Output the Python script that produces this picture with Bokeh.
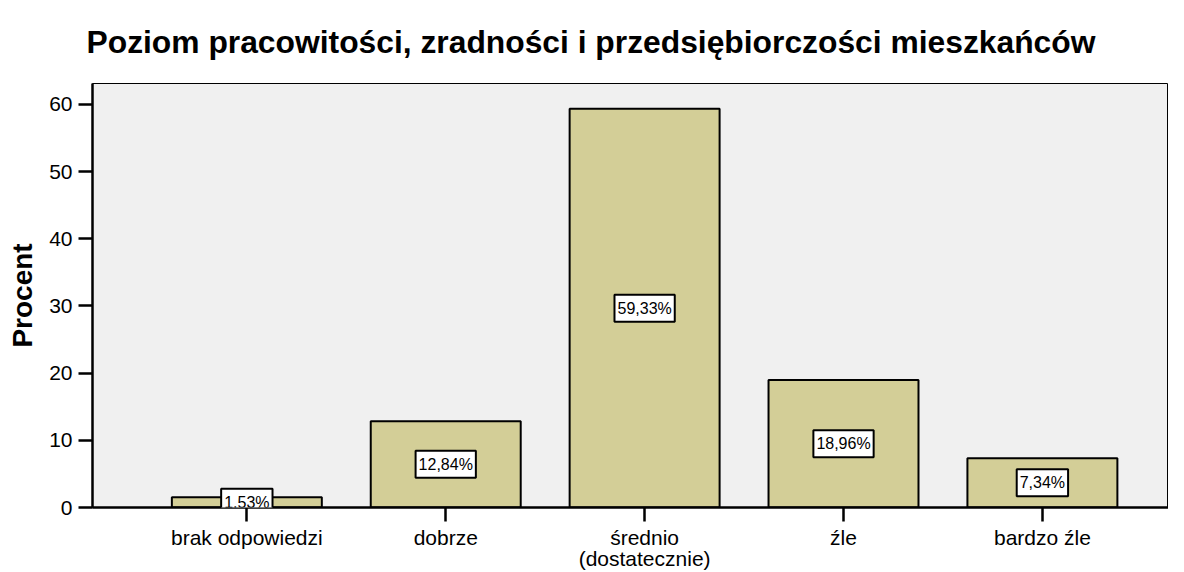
from bokeh.plotting import figure
from bokeh.models import ColumnDataSource, FixedTicker, Range1d, Label
from bokeh.embed import file_html
from bokeh.resources import INLINE

title_text = "Poziom pracowitości, zradności i przedsiębiorczości mieszkańców"
categories = ["brak odpowiedzi", "dobrze", "średnio\n(dostatecznie)", "źle", "bardzo źle"]
percent = [1.53, 12.84, 59.33, 18.96, 7.34]
pct_labels = ["1,53%", "12,84%", "59,33%", "18,96%", "7,34%"]
y_ticks = [0, 10, 20, 30, 40, 50, 60]

FONT = "Liberation Sans"
xs = list(range(len(categories)))

p = figure(width=1168, height=572, output_backend="svg", toolbar_location=None,
           x_range=Range1d(-0.776, 4.634), y_range=Range1d(0, 63.1),
           min_border_left=92, min_border_right=0, min_border_top=83, min_border_bottom=64)

p.title.text = title_text
p.title.text_font = FONT
p.title.text_font_size = "31.8px"
p.title.text_font_style = "bold"
p.title.text_color = "black"
p.title.align = "left"
p.title.offset = -6
p.title.vertical_align = "top"
p.title.standoff = 44

p.background_fill_color = "#f0f0f0"
p.border_fill_color = "white"
p.outline_line_color = "black"
p.outline_line_width = 1
p.xgrid.visible = False
p.ygrid.visible = False

src = ColumnDataSource(dict(x=xs, top=percent))
p.vbar(x="x", top="top", bottom=0, width=0.754, source=src,
       fill_color="#d3ce97", line_color="black", line_width=2)

for x, v, t in zip(xs, percent, pct_labels):
    p.add_layout(Label(x=x, y=v / 2, text=t, text_align="center", text_baseline="middle",
                       text_font=FONT, text_font_size="16px", text_color="black",
                       background_fill_color="white", border_line_color="black",
                       border_line_width=2, padding=(3, 5)))

for ax in (p.xaxis[0], p.yaxis[0]):
    ax.axis_line_color = "black"
    ax.axis_line_width = 2.5
    ax.major_tick_line_color = "black"
    ax.major_tick_line_width = 2.5
    ax.major_tick_out = 14
    ax.major_tick_in = 0
    ax.minor_tick_line_color = None
    ax.major_label_text_font = FONT
    ax.major_label_text_font_size = "21px"
    ax.major_label_text_color = "black"

p.yaxis.ticker = FixedTicker(ticks=y_ticks)
p.yaxis.major_label_standoff = 6
p.yaxis.axis_label = "Procent"
p.yaxis.axis_label_text_font = FONT
p.yaxis.axis_label_text_font_size = "28px"
p.yaxis.axis_label_text_font_style = "bold"
p.yaxis.axis_label_text_color = "black"
p.yaxis.axis_label_standoff = 8

p.xaxis.ticker = FixedTicker(ticks=xs)
p.xaxis.major_label_overrides = {i: c for i, c in zip(xs, categories)}
p.xaxis.major_label_standoff = 4
p.xaxis.major_label_text_line_height = 0.92

open("out.html", "w").write(file_html(p, INLINE))
